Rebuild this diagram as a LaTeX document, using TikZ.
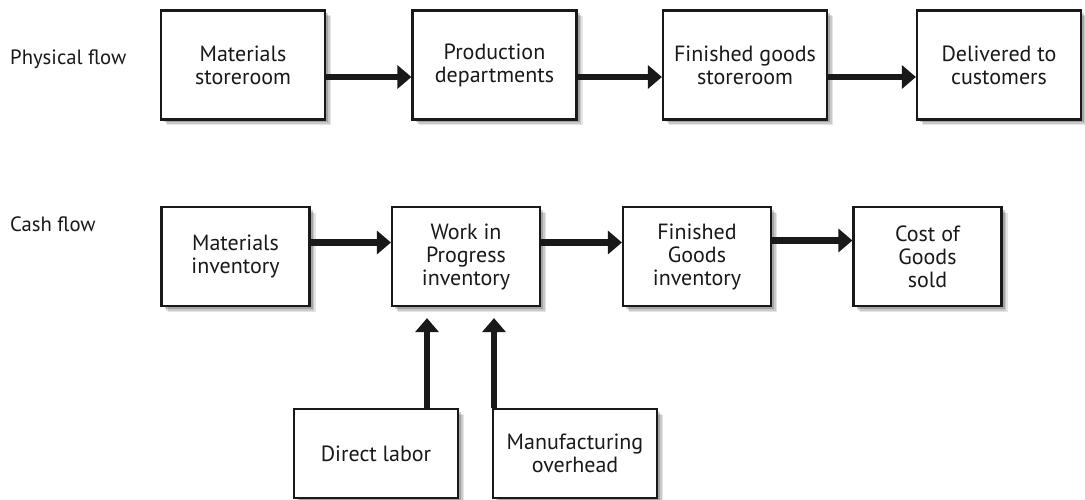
\documentclass[tikz,border=0pt]{standalone}
\usepackage{fontspec}
\setmainfont{PT Sans}
\usetikzlibrary{arrows.meta,shadows}
\begin{document}
\begin{tikzpicture}[x=1pt,y=-1pt,
  box/.style={draw=black!90, line width=2.2pt, fill=white, align=center, inner sep=0pt,
    font=\fontsize{22}{23}\selectfont, text=black!90,
    general shadow={fill=black, opacity=.10, shadow xshift=6pt, shadow yshift=-6pt},
    general shadow={fill=black, opacity=.12, shadow xshift=4.5pt, shadow yshift=-4.5pt},
    general shadow={fill=black, opacity=.18, shadow xshift=3pt, shadow yshift=-3pt}},
  topbox/.style={box, minimum width=164pt, minimum height=109pt},
  cashbox/.style={box, minimum width=148pt, minimum height=99pt},
  lowbox/.style={box, minimum width=164pt, minimum height=89pt},
  arr/.style={draw=black!90, line width=6.5pt, -{Triangle[length=14pt,width=23pt]}},
  lbl/.style={anchor=base west, inner sep=0pt, font=\fontsize{20.7}{22}\selectfont, text=black!90}]
\useasboundingbox (0,0) rectangle (1085,500);
\fill[white] (0,0) rectangle (1085,500);

\node[lbl] (pf) at (10,65) {Physical flow};
\node[lbl] (cf) at (10,232) {Cash flow};

\node[topbox] (ms) at (243,65) {Materials\\storeroom};
\node[topbox] (pd) at (494.5,65) {Production\\departments};
\node[topbox] (fg) at (745,65) {Finished goods\\storeroom};
\node[topbox] (dc) at (999,65) {Delivered to\\customers};

\draw[arr] ([yshift=-12pt]ms.east) -- ([yshift=-12pt]pd.west);
\draw[arr] ([yshift=-12pt]pd.east) -- ([yshift=-12pt]fg.west);
\draw[arr] ([yshift=-12pt]fg.east) -- ([yshift=-12pt]dc.west);

\node[cashbox] (mi) at (235.5,256.5) {Materials\\inventory};
\node[cashbox] (wip) at (466,256.5) {Work in\\Progress\\inventory};
\node[cashbox] (fgi) at (697,256.5) {Finished\\Goods\\inventory};
\node[cashbox] (cogs) at (927.5,256.5) {Cost of\\Goods\\sold};

\draw[arr] ([yshift=14pt]mi.east) -- ([yshift=14pt]wip.west);
\draw[arr] ([yshift=14pt]wip.east) -- ([yshift=14pt]fgi.west);
\draw[arr] ([yshift=16pt]fgi.east) -- ([yshift=16pt]cogs.west);

\node[lowbox] (dl) at (376,453.5) {Direct labor};
\node[lowbox] (mo) at (575,453.5) {Manufacturing\\overhead};

\draw[arr] ([xshift=51pt]dl.north) -- ([xshift=-39pt,yshift=-11pt]wip.south);
\draw[arr] ([xshift=-81pt]mo.north) -- ([xshift=28pt,yshift=-11pt]wip.south);
\end{tikzpicture}
\end{document}
